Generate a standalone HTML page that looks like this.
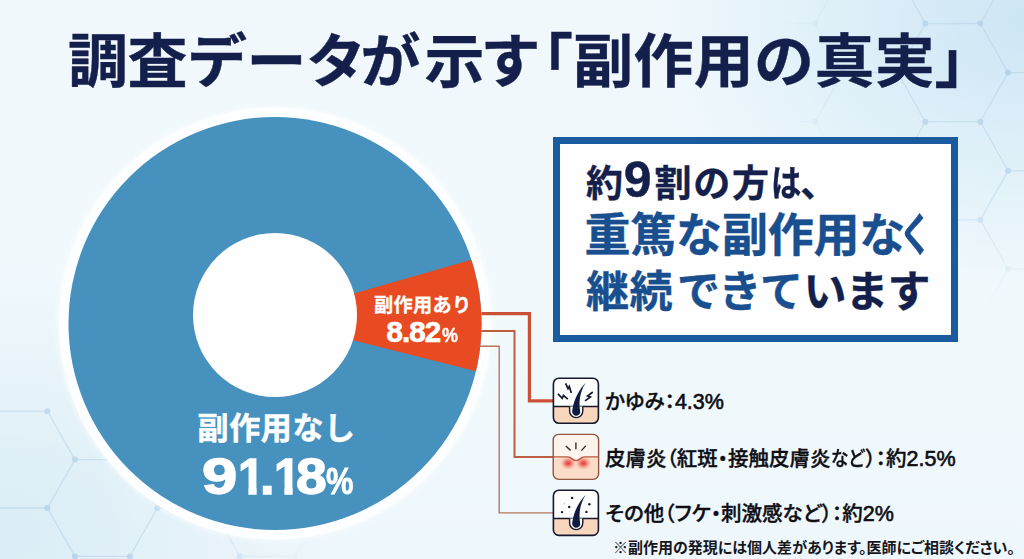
<!DOCTYPE html>
<html lang="ja">
<head>
<meta charset="utf-8">
<title>調査データが示す「副作用の真実」</title>
<style>
  html, body { margin: 0; padding: 0; }
  body {
    width: 1024px; height: 559px; overflow: hidden; position: relative;
    font-family: "Liberation Sans", "Noto Sans CJK JP", sans-serif;
    background: #f0f8fc;
  }
  #stage { position: absolute; left: 0; top: 0; width: 1024px; height: 559px; overflow: hidden;
    background:
      radial-gradient(ellipse 370px 270px at 1024px 20px, rgba(196,226,243,0.8), rgba(196,226,243,0) 100%),
      radial-gradient(ellipse 320px 270px at 10px 530px, rgba(205,229,243,0.6), rgba(205,229,243,0) 100%),
      linear-gradient(180deg, #f0f8fc 0%, #f1f9fc 55%, #eef7fb 100%);
  }
  .abs { position: absolute; white-space: nowrap; line-height: 1; }
  .t { font-weight: 700; color: #141f4b; font-size: 60px; letter-spacing: -0.5px; top: 32.6px; transform: scaleY(0.968); transform-origin: 50% 50%; -webkit-text-stroke: 0.4px #141f4b; }
  #box { position: absolute; left: 553px; top: 137px; width: 391px; height: 191px; border: 7px solid #1a5a9f; background: #fefefe; }
  .navy { color: #141f4b; }
  .blue { color: #194f8e; }
  .b { font-weight: 700; -webkit-text-stroke-width: 0.4px; }
  .w { color: #fff; font-weight: 700; }
  .sx { display: inline-block; transform-origin: 0 50%; }
  .lg { font-weight: 500; color: #0e0e14; font-size: 20.5px; font-feature-settings: "palt" 1; -webkit-text-stroke: 0.35px #0e0e14; }
  .lg i { font-style: normal; font-size: 21.5px; -webkit-text-stroke: 0.6px #0e0e14; }
  .note { font-weight: 700; color: #16161c; font-size: 15px; font-feature-settings: "palt" 1; }
</style>
</head>
<body>
<div id="stage">

<!-- background hex pattern + chart + connectors -->
<svg id="gfx" class="abs" style="left:0;top:0" width="1024" height="559" viewBox="0 0 1024 559">
  <defs>
    <clipPath id="cpDonut"><circle cx="275" cy="323.5" r="206.5"/></clipPath>
    <radialGradient id="gTR" cx="1024" cy="60" r="250" gradientUnits="userSpaceOnUse"><stop offset="0" stop-color="#fff"/><stop offset="0.55" stop-color="#fff" stop-opacity="0.75"/><stop offset="1" stop-color="#fff" stop-opacity="0"/></radialGradient>
    <radialGradient id="gBL" cx="20" cy="560" r="300" gradientUnits="userSpaceOnUse"><stop offset="0" stop-color="#fff"/><stop offset="0.55" stop-color="#fff" stop-opacity="0.75"/><stop offset="1" stop-color="#fff" stop-opacity="0"/></radialGradient>
    <filter id="soft" x="-10%" y="-10%" width="120%" height="120%"><feGaussianBlur stdDeviation="2.2"/></filter>
    <mask id="mTR" maskUnits="userSpaceOnUse" x="0" y="0" width="1024" height="559"><rect width="1024" height="559" fill="url(#gTR)"/></mask>
    <mask id="mBL" maskUnits="userSpaceOnUse" x="0" y="0" width="1024" height="559"><rect width="1024" height="559" fill="url(#gBL)"/></mask>
  </defs>

  <!-- hex pattern top-right -->
  <g id="hexTR" fill="none" stroke="#bfd9ea" stroke-width="1.3" opacity="0.85" mask="url(#mTR)"><path d="M760.0 -172.9L815.1 -172.9M760.0 -74.7L815.1 -74.7M760.0 23.5L815.1 23.5M760.0 121.7L815.1 121.7M760.0 219.9L815.1 219.9M815.1 -172.9L842.6 -123.8M815.1 -74.7L842.6 -123.8M815.1 -74.7L842.6 -25.6M815.1 -74.7L842.7 -123.8M815.1 -74.7L842.7 -25.6M815.1 23.5L842.6 -25.6M815.1 23.5L842.6 72.6M815.1 23.5L842.7 -25.6M815.1 23.5L842.7 72.6M815.1 121.7L842.6 72.6M815.1 121.7L842.6 170.8M815.1 121.7L842.7 72.6M815.1 121.7L842.7 170.8M815.1 219.9L842.6 170.8M815.1 219.9L842.6 269.0M815.1 219.9L842.7 170.8M815.1 219.9L842.7 269.0M842.7 -123.8L897.8 -123.8M842.7 -25.6L897.8 -25.6M842.7 72.6L897.8 72.6M842.7 170.8L897.8 170.8M842.7 269.0L897.8 269.0M897.8 -123.8L925.3 -172.9M897.8 -123.8L925.3 -74.7M897.8 -25.6L925.3 -74.7M897.8 -25.6L925.3 23.5M897.8 72.6L925.3 23.5M897.8 72.6L925.3 121.7M897.8 170.8L925.3 121.7M897.8 170.8L925.3 219.9M897.8 269.0L925.3 219.9M897.8 269.0L925.3 318.1M925.3 -172.9L980.4 -172.9M925.3 -74.7L980.4 -74.7M925.3 23.5L980.4 23.5M925.3 121.7L980.4 121.7M925.3 219.9L980.4 219.9M980.4 -172.9L1008.0 -123.8M980.4 -74.7L1008.0 -123.8M980.4 -74.7L1008.0 -25.6M980.4 23.5L1008.0 -25.6M980.4 23.5L1008.0 72.6M980.4 121.7L1008.0 72.6M980.4 121.7L1008.0 170.8M980.4 219.9L1008.0 170.8M980.4 219.9L1008.0 269.0M980.4 318.1L1008.0 269.0M1008.0 -123.8L1063.0 -123.8M1008.0 -25.6L1063.0 -25.6M1008.0 72.6L1063.0 72.6M1008.0 170.8L1063.0 170.8M1008.0 269.0L1063.0 269.0M1063.0 -123.8L1090.6 -74.7M1063.0 -25.6L1090.6 -74.7M1063.0 -25.6L1090.6 23.5M1063.0 72.6L1090.6 23.5M1063.0 72.6L1090.6 121.7M1063.0 170.8L1090.6 121.7M1063.0 170.8L1090.6 219.9M1063.0 269.0L1090.6 219.9M1063.0 269.0L1090.6 318.1M1063.1 -123.8L1090.6 -172.9M1063.1 -123.8L1090.6 -74.7M1063.1 -25.6L1090.6 -74.7M1063.1 -25.6L1090.6 23.5M1063.1 72.6L1090.6 23.5M1063.1 72.6L1090.6 121.7M1063.1 170.8L1090.6 121.7M1063.1 170.8L1090.6 219.9M1063.1 269.0L1090.6 219.9M1063.1 269.0L1090.6 318.1M1090.6 -172.9L1145.7 -172.9M1090.6 -74.7L1145.7 -74.7M1090.6 23.5L1145.7 23.5M1090.6 121.7L1145.7 121.7M1090.6 219.9L1145.7 219.9M1145.7 -172.9L1173.2 -123.8M1145.7 -74.7L1173.2 -123.8M1145.7 -74.7L1173.2 -25.6M1145.7 23.5L1173.2 -25.6M1145.7 23.5L1173.2 72.6M1145.7 121.7L1173.2 72.6M1145.7 121.7L1173.2 170.8M1145.7 219.9L1173.2 170.8M1145.7 219.9L1173.2 269.0M1145.7 318.1L1173.2 269.0"/><g fill="#b0cfe6" stroke="none"><circle cx="815.1" cy="-172.9" r="3"/><circle cx="815.1" cy="-74.7" r="3"/><circle cx="815.1" cy="23.5" r="3"/><circle cx="815.1" cy="121.7" r="3"/><circle cx="815.1" cy="219.9" r="3"/><circle cx="842.6" cy="-123.8" r="3"/><circle cx="842.6" cy="-25.6" r="3"/><circle cx="842.6" cy="72.6" r="3"/><circle cx="842.6" cy="170.8" r="3"/><circle cx="842.7" cy="-123.8" r="3"/><circle cx="842.7" cy="-25.6" r="3"/><circle cx="842.7" cy="72.6" r="3"/><circle cx="842.7" cy="170.8" r="3"/><circle cx="897.8" cy="-123.8" r="3"/><circle cx="897.8" cy="-25.6" r="3"/><circle cx="897.8" cy="72.6" r="3"/><circle cx="897.8" cy="170.8" r="3"/><circle cx="897.8" cy="269.0" r="3"/><circle cx="925.3" cy="-172.9" r="3"/><circle cx="925.3" cy="-74.7" r="3"/><circle cx="925.3" cy="23.5" r="3"/><circle cx="925.3" cy="121.7" r="3"/><circle cx="925.3" cy="219.9" r="3"/><circle cx="980.4" cy="-172.9" r="3"/><circle cx="980.4" cy="-74.7" r="3"/><circle cx="980.4" cy="23.5" r="3"/><circle cx="980.4" cy="121.7" r="3"/><circle cx="980.4" cy="219.9" r="3"/><circle cx="1008.0" cy="-123.8" r="3"/><circle cx="1008.0" cy="-25.6" r="3"/><circle cx="1008.0" cy="72.6" r="3"/><circle cx="1008.0" cy="170.8" r="3"/><circle cx="1008.0" cy="269.0" r="3"/><circle cx="1063.0" cy="-123.8" r="3"/><circle cx="1063.0" cy="-25.6" r="3"/><circle cx="1063.0" cy="72.6" r="3"/><circle cx="1063.0" cy="170.8" r="3"/><circle cx="1063.0" cy="269.0" r="3"/><circle cx="1063.1" cy="-123.8" r="3"/><circle cx="1063.1" cy="-25.6" r="3"/><circle cx="1063.1" cy="72.6" r="3"/><circle cx="1063.1" cy="170.8" r="3"/><circle cx="1063.1" cy="269.0" r="3"/><circle cx="1090.6" cy="-172.9" r="3"/><circle cx="1090.6" cy="-74.7" r="3"/><circle cx="1090.6" cy="23.5" r="3"/><circle cx="1090.6" cy="121.7" r="3"/><circle cx="1090.6" cy="219.9" r="3"/><circle cx="1145.7" cy="-172.9" r="3"/><circle cx="1145.7" cy="-74.7" r="3"/><circle cx="1145.7" cy="23.5" r="3"/><circle cx="1145.7" cy="121.7" r="3"/><circle cx="1145.7" cy="219.9" r="3"/><circle cx="1173.2" cy="-123.8" r="3"/><circle cx="1173.2" cy="-25.6" r="3"/><circle cx="1173.2" cy="72.6" r="3"/><circle cx="1173.2" cy="170.8" r="3"/><circle cx="1173.2" cy="269.0" r="3"/></g></g>
  <!-- hex pattern bottom-left -->
  <g id="hexBL" fill="none" stroke="#bfd9ea" stroke-width="1.3" opacity="0.85" mask="url(#mBL)"><path d="M-35.1 459.6L-7.6 411.2M-35.1 459.6L-7.6 508.0M-35.1 556.4L-7.6 508.0M-35.1 556.4L-7.6 604.8M-7.6 411.2L47.4 411.2M-7.6 508.0L47.4 508.0M-7.6 604.8L47.4 604.8M47.4 411.2L74.9 459.6M47.4 508.0L74.9 459.6M47.4 508.0L74.9 556.4M47.4 604.8L74.9 556.4M74.9 459.6L129.9 459.6M74.9 556.4L129.9 556.4M129.9 459.6L157.4 411.2M129.9 459.6L157.4 508.0M129.9 556.4L157.4 508.0M129.9 556.4L157.4 604.8M157.4 411.2L212.4 411.2M157.4 508.0L212.4 508.0M157.4 604.8L212.4 604.8M212.4 411.2L239.9 459.6M212.4 508.0L239.9 459.6M212.4 508.0L239.9 556.4M212.4 604.8L239.9 556.4M239.9 459.6L294.9 459.6M239.9 556.4L294.9 556.4M294.9 459.6L322.4 411.2M294.9 459.6L322.4 508.0M294.9 556.4L322.4 508.0M294.9 556.4L322.4 604.8"/><g fill="#b0cfe6" stroke="none"><circle cx="-35.1" cy="459.6" r="3"/><circle cx="-35.1" cy="556.4" r="3"/><circle cx="-7.6" cy="411.2" r="3"/><circle cx="-7.6" cy="508.0" r="3"/><circle cx="-7.6" cy="604.8" r="3"/><circle cx="47.4" cy="411.2" r="3"/><circle cx="47.4" cy="508.0" r="3"/><circle cx="47.4" cy="604.8" r="3"/><circle cx="74.9" cy="459.6" r="3"/><circle cx="74.9" cy="556.4" r="3"/><circle cx="129.9" cy="459.6" r="3"/><circle cx="129.9" cy="556.4" r="3"/><circle cx="157.4" cy="411.2" r="3"/><circle cx="157.4" cy="508.0" r="3"/><circle cx="157.4" cy="604.8" r="3"/><circle cx="212.4" cy="411.2" r="3"/><circle cx="212.4" cy="508.0" r="3"/><circle cx="212.4" cy="604.8" r="3"/><circle cx="239.9" cy="459.6" r="3"/><circle cx="239.9" cy="556.4" r="3"/><circle cx="294.9" cy="459.6" r="3"/><circle cx="294.9" cy="556.4" r="3"/><circle cx="322.4" cy="411.2" r="3"/><circle cx="322.4" cy="508.0" r="3"/><circle cx="322.4" cy="604.8" r="3"/></g></g>

  <!-- donut -->
  <circle cx="275" cy="323.5" r="218" fill="#fdfeff" opacity="0.55" filter="url(#soft)"/>
  <circle cx="275" cy="323.5" r="216" fill="#fdfeff"/>
  <circle cx="275" cy="323.5" r="206.5" fill="#4691be"/>
  <polygon points="267,318.6 520,245.8 520,382.3" fill="#e84a22" clip-path="url(#cpDonut)"/>
  <circle cx="275" cy="315" r="82" fill="#fefefe"/>

  <!-- connectors -->
  <polyline points="481.5,313.6 529.4,313.6 529.4,400.8 553,400.8" fill="none" stroke="#cb5136" stroke-width="3.2"/>
  <polyline points="481.5,330.9 514.5,330.9 514.5,456.9 553,456.9" fill="none" stroke="#bd5d42" stroke-width="2"/>
  <polyline points="479.5,346.3 499.2,346.3 499.2,512.9 553,512.9" fill="none" stroke="#b8755c" stroke-width="1.4"/>
</svg>

<!-- title -->
<div class="abs t" id="t1" style="left:68px;">調査データ<span style="margin-left:-5px; margin-right:4.5px;">が</span>示<span style="margin-left:-3.5px">す</span></div>
<div class="abs t" id="t2" style="left:513px;">「</div>
<div class="abs t" id="t3" style="left:573.2px; letter-spacing:0.3px;">副作用の真実</div>
<div class="abs t" id="t4" style="left:934.5px;">」</div>

<!-- message box -->
<div id="box"></div>
<div class="abs b navy" id="m1" style="left:586px; top:154.5px; font-size:37px; letter-spacing:1.7px;">約<span id="m1n" style="font-size:50px; letter-spacing:0; margin:0 3px 0 -1px;">9</span>割の方<span class="sx" style="transform:scaleX(.82); width:28px; letter-spacing:0;">は</span><span style="margin-left:1.5px">、</span></div>
<div class="abs b blue" id="m2" style="left:584.5px; top:212px; font-size:46px; letter-spacing:-0.2px;">重篤な副作用な<span style="display:inline-block; transform:scaleX(.72); transform-origin:0 50%; margin-left:-6px;">く</span></div>
<div class="abs b blue" id="m3" style="left:586px; top:271px; font-size:43px; letter-spacing:0.5px;">継続<span style="margin-left:4px;margin-right:-2px">で</span>き<span style="margin-left:-2px">て</span><span class="navy" style="letter-spacing:-1px">います</span></div>

<!-- donut labels -->
<div class="abs w" id="d1" style="left:374px; top:296px; font-size:19.2px; letter-spacing:0.3px; -webkit-text-stroke:0.3px #fff;">副作用あり</div>
<div class="abs w" id="d2" style="left:386.5px; top:316.5px; font-size:29.5px; letter-spacing:-0.9px; -webkit-text-stroke:0.7px #fff;">8.82<span style="font-size:19.5px; letter-spacing:0; -webkit-text-stroke:0.4px #fff; margin-left:1.2px; display:inline-block; transform:scaleX(.92); transform-origin:0 50%;">%</span></div>
<div class="abs w" id="d3" style="left:197.6px; top:413px; font-size:31px; letter-spacing:0.6px; -webkit-text-stroke:0.5px #fff;">副作用なし</div>
<div class="abs w" id="d4" style="left:202.26px; top:452.3px; font-size:50.8px; -webkit-text-stroke:1.4px #fff;"><span class="sx" style="width:36.14px; transform:scaleX(1.25);">9</span><span class="sx" style="width:21.5px; transform:scaleX(.95); clip-path:polygon(0 0, 19.7px 0, 19.7px 100%, 10.9px 100%, 10.9px 35px, 0 35px);">1</span><span class="sx" style="width:14px; transform:scaleX(1.03);">.</span><span class="sx" style="width:22.1px; transform:scaleX(.95); clip-path:polygon(0 0, 19.7px 0, 19.7px 100%, 10.9px 100%, 10.9px 35px, 0 35px);">1</span><span class="sx" style="width:30.3px; transform:scaleX(1.09);">8</span><span class="sx" style="font-size:36.5px; -webkit-text-stroke:0.8px #fff; transform:scaleX(.845);">%</span></div>

<!-- legend icons -->
<svg class="abs" id="ic1" style="left:552px; top:377px;" width="48" height="48" viewBox="0 0 48 48">
  <defs><clipPath id="c1"><rect x="1.4" y="1.2" width="45" height="45" rx="5.5"/></clipPath></defs>
  <rect x="1.4" y="1.2" width="45" height="45" rx="5.5" fill="#fdfdfd"/>
  <rect x="0" y="29.5" width="48" height="19" fill="#f8d5bd" clip-path="url(#c1)"/>
  <line x1="1.4" y1="29.5" x2="46.4" y2="29.5" stroke="#15182c" stroke-width="1.3"/>
  <path d="M17.6 29.5 V34 A6.6 6.6 0 0 0 30.8 34 V29.5" fill="#fefefe" stroke="#15182c" stroke-width="1.4"/>
  <path d="M33.6 6 C27.2 12.5 22.2 21.5 20.2 33.4 A4 4.4 0 0 0 28.3 35.2 C26.6 26 27.4 15.5 33.6 6 Z" fill="#111a40"/>
  <g fill="none" stroke="#15182c" stroke-width="1.7" stroke-linejoin="miter" stroke-linecap="butt">
    <polyline points="13.6,6.4 16,11.6 17.3,9.4 19.3,16.1"/>
    <polyline points="5.9,16.8 10.3,21.3 11.4,18.4 15.8,22.2"/>
    <polyline points="40.8,15 35.6,19 38.4,20 33,23.9"/>
  </g>
  <rect x="1.4" y="1.2" width="45" height="45" rx="5.5" fill="none" stroke="#15182c" stroke-width="1.6"/>
</svg>
<svg class="abs" id="ic2" style="left:552px; top:433px;" width="48" height="48" viewBox="0 0 48 48">
  <defs>
    <clipPath id="c2"><rect x="1.2" y="1.4" width="45.4" height="45" rx="5.5"/></clipPath>
    <radialGradient id="blush"><stop offset="0" stop-color="#e4403f" stop-opacity="1"/><stop offset="0.3" stop-color="#e84f4b" stop-opacity="0.85"/><stop offset="0.65" stop-color="#f07c70" stop-opacity="0.45"/><stop offset="1" stop-color="#f6a08c" stop-opacity="0"/></radialGradient>
    <radialGradient id="bump"><stop offset="0" stop-color="#ffffff" stop-opacity="1"/><stop offset="0.6" stop-color="#fff4ee" stop-opacity="0.8"/><stop offset="1" stop-color="#fdeee6" stop-opacity="0"/></radialGradient>
  </defs>
  <rect x="1.2" y="1.4" width="45.4" height="45" rx="5.5" fill="#fdf3ed"/>
  <path d="M0 23.9 H16 C19.5 23.9 20 27.6 24.1 27.6 C28.2 27.6 28.7 23.9 32.2 23.9 H48 V48 H0 Z" fill="#fbdcc8" clip-path="url(#c2)"/>
  <ellipse cx="16.2" cy="30.2" rx="8.2" ry="6.8" fill="url(#blush)"/>
  <ellipse cx="31.4" cy="30.2" rx="8.2" ry="6.8" fill="url(#blush)"/>
  <circle cx="23.8" cy="22.2" r="5.6" fill="url(#bump)"/>
  <path d="M0 23.9 H16 C19.5 23.9 20 27.6 24.1 27.6 C28.2 27.6 28.7 23.9 32.2 23.9 H48" fill="none" stroke="#b9583a" stroke-width="1.4" clip-path="url(#c2)"/>
  <g stroke="#3b2624" stroke-width="1.4" stroke-linecap="butt">
    <line x1="13.9" y1="12.9" x2="18.6" y2="17.6"/>
    <line x1="23.9" y1="9.5" x2="23.9" y2="16.2"/>
    <line x1="33.7" y1="12.9" x2="29.4" y2="17.6"/>
  </g>
  <rect x="1.2" y="1.4" width="45.4" height="45" rx="5.5" fill="none" stroke="#94553f" stroke-width="1.4"/>
</svg>
<svg class="abs" id="ic3" style="left:552px; top:489px;" width="48" height="48" viewBox="0 0 48 48">
  <defs><clipPath id="c3"><rect x="1.4" y="1.2" width="45" height="45.2" rx="5.5"/></clipPath></defs>
  <rect x="1.4" y="1.2" width="45" height="45.2" rx="5.5" fill="#fdfdfd"/>
  <rect x="0" y="29.5" width="48" height="19" fill="#f8d5bd" clip-path="url(#c3)"/>
  <line x1="1.4" y1="29.5" x2="46.4" y2="29.5" stroke="#15182c" stroke-width="1.3"/>
  <path d="M17.6 29.5 V34 A6.6 6.6 0 0 0 30.8 34 V29.5" fill="#fefefe" stroke="#15182c" stroke-width="1.4"/>
  <path d="M33.6 6 C27.2 12.5 22.2 21.5 20.2 33.4 A4 4.4 0 0 0 28.3 35.2 C26.6 26 27.4 15.5 33.6 6 Z" fill="#111a40"/>
  <g fill="#15182c">
    <circle cx="20.1" cy="8.9" r="1.2"/><circle cx="17.2" cy="17.9" r="1.2"/><circle cx="10" cy="23.1" r="1.2"/>
    <circle cx="37.4" cy="15.3" r="1.2"/><circle cx="34.4" cy="22.9" r="1.2"/>
    <circle cx="12.3" cy="14.6" r="1.1" fill="#d8d8dc"/>
  </g>
  <rect x="1.4" y="1.2" width="45" height="45.2" rx="5.5" fill="none" stroke="#15182c" stroke-width="1.6"/>
</svg>

<!-- legend text -->
<div class="abs lg" id="l1" style="left:605px; top:391.5px;">かゆみ：<i>4.3%</i></div>
<div class="abs lg" id="l2" style="left:605px; top:449px;">皮膚炎（紅斑・接触皮膚炎<span class="sx" style="transform:scaleX(.86); width:35px;">など</span>）：約<i>2.5%</i></div>
<div class="abs lg" id="l3" style="left:605.5px; top:503.5px;">その他（フケ・刺激感など）：約<i>2%</i></div>

<div class="abs note" id="n1" style="left:613px; top:539.5px;">※副作用の発現には個人差があります。医師にご相談ください。</div>

</div>
</body>
</html>
